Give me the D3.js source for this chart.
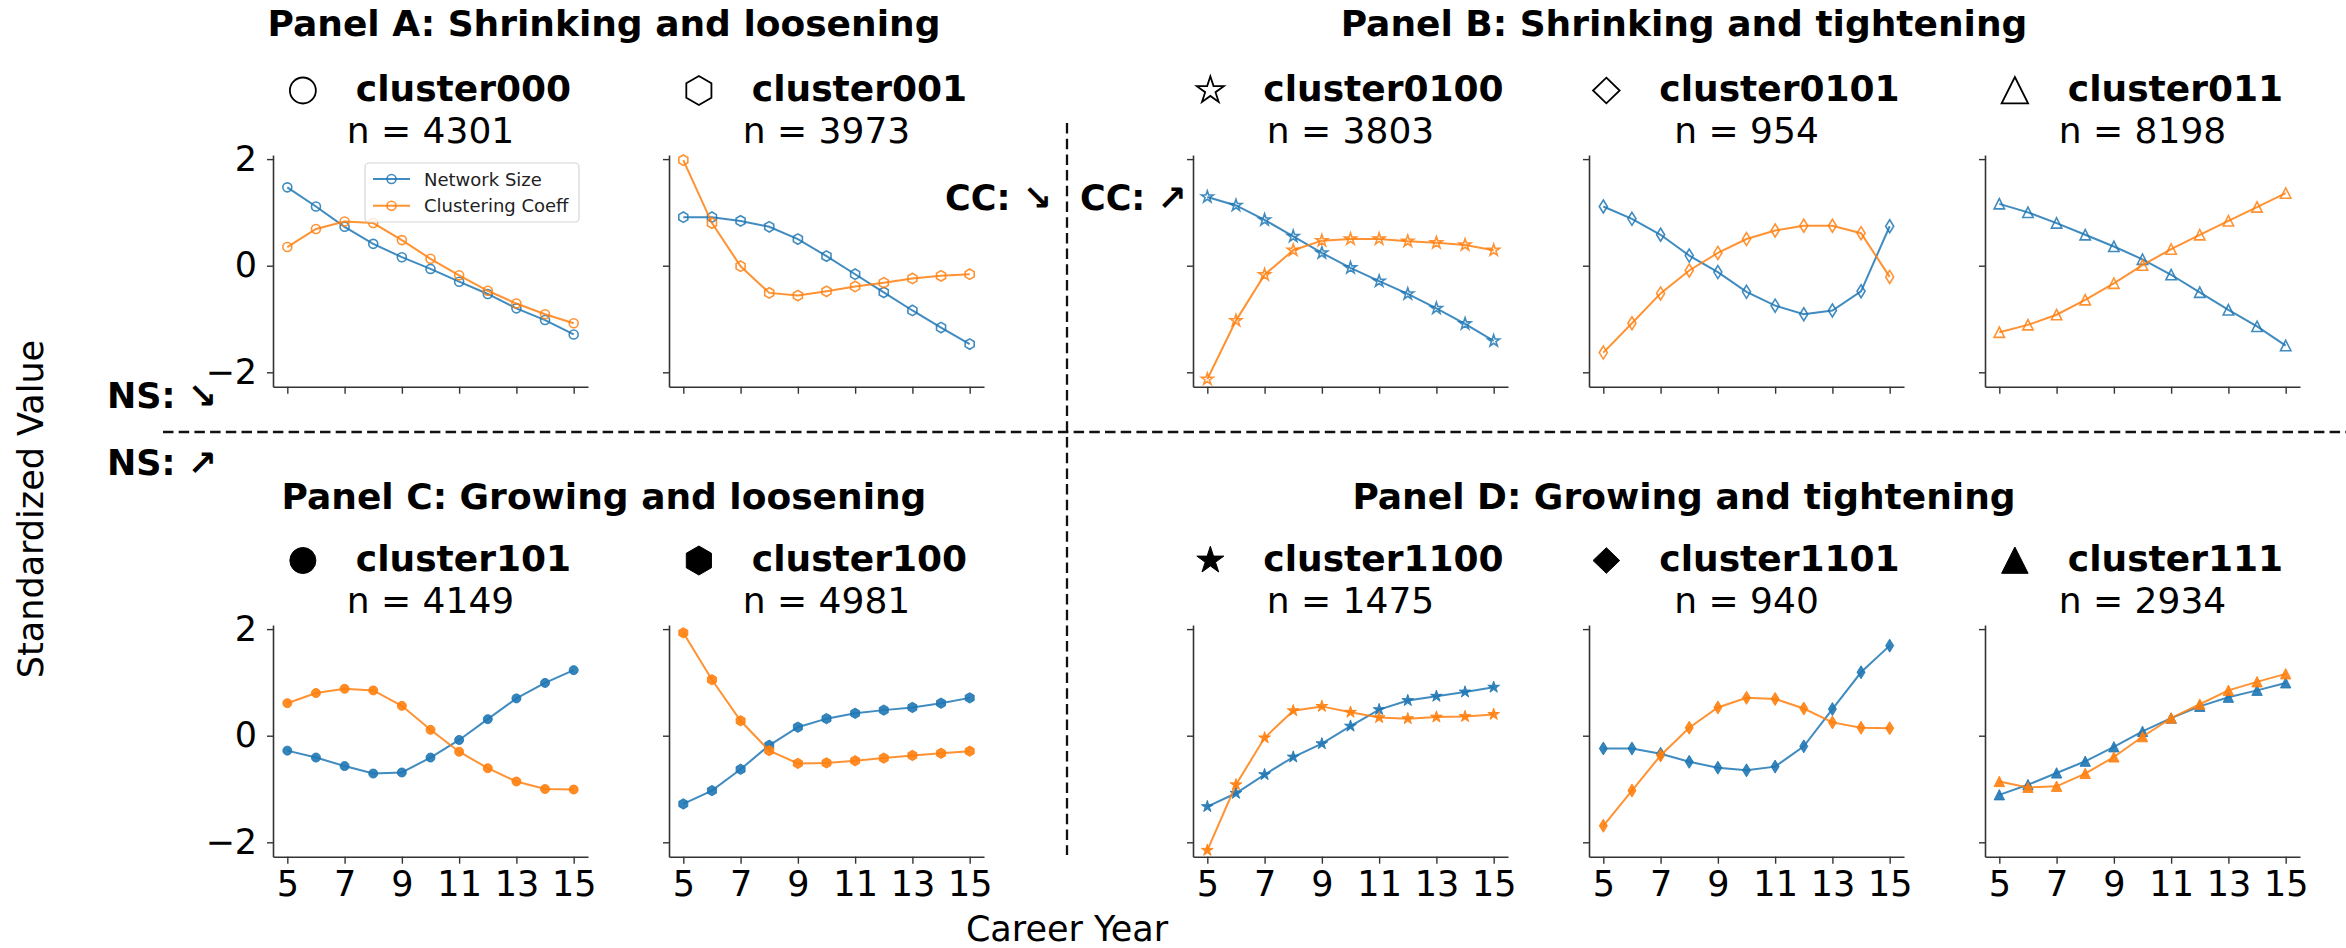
<!DOCTYPE html>
<html>
<head>
<meta charset="utf-8">
<script src="https://cdn.jsdelivr.net/npm/d3@7/dist/d3.min.js"></script>
<style>
  body { margin: 0; background: #fff; }
  svg { display: block; }
  text { font-family: "DejaVu Sans", sans-serif; }
</style>
</head>
<body>
<svg id="fig" width="2346" height="948"></svg>
<script>
// ---- data -------------------------------------------------------------
const years = [5, 6, 7, 8, 9, 10, 11, 12, 13, 14, 15];
const xTickValues = [5, 7, 9, 11, 13, 15];
const yTickValues = [-2, 0, 2];
const seriesNames = ["Network Size", "Clustering Coeff"];

const panelTitles = [
  "Panel A: Shrinking and loosening",
  "Panel B: Shrinking and tightening",
  "Panel C: Growing and loosening",
  "Panel D: Growing and tightening"
];

const clusterIds = ["cluster000", "cluster001", "cluster0100", "cluster0101", "cluster011",
                    "cluster101", "cluster100", "cluster1100", "cluster1101", "cluster111"];
const clusterSizes = [4301, 3973, 3803, 954, 8198, 4149, 4981, 1475, 940, 2934];
const clusterShapes = ["circle", "hexagon", "star", "thinDiamond", "triangle",
                       "circle", "hexagon", "star", "thinDiamond", "triangle"];
const clusterFilled = [false, false, false, false, false, true, true, true, true, true];

// standardized network size (NS) and clustering coefficient (CC), career years 5..15
const nsCluster000  = [1.47, 1.11, 0.73, 0.41, 0.16, -0.06, -0.30, -0.53, -0.80, -1.02, -1.29];
const ccCluster000  = [0.35, 0.69, 0.83, 0.80, 0.48, 0.13, -0.18, -0.47, -0.71, -0.91, -1.08];
const nsCluster001  = [0.91, 0.91, 0.84, 0.73, 0.50, 0.18, -0.16, -0.50, -0.84, -1.16, -1.47];
const ccCluster001  = [1.98, 0.80, -0.01, -0.51, -0.56, -0.48, -0.39, -0.32, -0.24, -0.19, -0.16];
const nsCluster0100 = [1.29, 1.13, 0.86, 0.55, 0.24, -0.04, -0.29, -0.53, -0.80, -1.09, -1.41];
const ccCluster0100 = [-2.13, -1.03, -0.17, 0.29, 0.47, 0.50, 0.50, 0.46, 0.43, 0.39, 0.29];
const nsCluster0101 = [1.11, 0.88, 0.58, 0.19, -0.12, -0.49, -0.75, -0.91, -0.84, -0.48, 0.74];
const ccCluster0101 = [-1.63, -1.08, -0.52, -0.09, 0.24, 0.50, 0.66, 0.75, 0.75, 0.61, -0.21];
const nsCluster011  = [1.16, 1.00, 0.80, 0.58, 0.36, 0.12, -0.17, -0.50, -0.83, -1.14, -1.50];
const ccCluster011  = [-1.25, -1.11, -0.92, -0.64, -0.33, 0.01, 0.31, 0.58, 0.84, 1.10, 1.36];
const nsCluster101  = [-0.28, -0.41, -0.57, -0.71, -0.69, -0.41, -0.08, 0.31, 0.70, 0.99, 1.23];
const ccCluster101  = [0.61, 0.80, 0.88, 0.85, 0.56, 0.11, -0.30, -0.61, -0.86, -1.00, -1.01];
const nsCluster100  = [-1.28, -1.03, -0.63, -0.18, 0.16, 0.32, 0.42, 0.48, 0.53, 0.61, 0.71];
const ccCluster100  = [1.93, 1.05, 0.28, -0.28, -0.52, -0.51, -0.47, -0.42, -0.37, -0.33, -0.29];
const nsCluster1100 = [-1.33, -1.08, -0.73, -0.40, -0.15, 0.18, 0.49, 0.66, 0.74, 0.82, 0.91];
const ccCluster1100 = [-2.15, -0.92, -0.04, 0.47, 0.55, 0.44, 0.34, 0.32, 0.35, 0.36, 0.40];
const nsCluster1101 = [-0.24, -0.24, -0.34, -0.49, -0.60, -0.65, -0.58, -0.20, 0.50, 1.19, 1.69];
const ccCluster1101 = [-1.69, -1.03, -0.37, 0.15, 0.53, 0.71, 0.69, 0.51, 0.25, 0.15, 0.14];
const nsCluster111  = [-1.11, -0.92, -0.70, -0.48, -0.21, 0.08, 0.33, 0.55, 0.72, 0.85, 0.99];
const ccCluster111  = [-0.86, -0.97, -0.95, -0.71, -0.40, -0.02, 0.33, 0.59, 0.85, 1.01, 1.16];

const nsSeries = [nsCluster000, nsCluster001, nsCluster0100, nsCluster0101, nsCluster011,
                  nsCluster101, nsCluster100, nsCluster1100, nsCluster1101, nsCluster111];
const ccSeries = [ccCluster000, ccCluster001, ccCluster0100, ccCluster0101, ccCluster011,
                  ccCluster101, ccCluster100, ccCluster1100, ccCluster1101, ccCluster111];

// ---- layout -----------------------------------------------------------
const colors = ["#1f77b4", "#ff7f0e"];
const colLeft = [273, 669, 1193, 1589, 1985];
const axW = 315;
const rowTop = [155, 625];
const axH = 231.7;
const yDomain = [-2.27, 2.077];
const xDomain = [4.5, 15.5];

const svg = d3.select("#fig");

// marker outlines centred on (0,0)
function shapePath(shape, s) {
  const p = d3.path();
  if (shape === "circle") {
    p.moveTo(s, 0); p.arc(0, 0, s, 0, 2 * Math.PI); p.closePath();
  } else if (shape === "hexagon") {
    for (let k = 0; k < 6; k++) {
      const a = -Math.PI / 2 + k * Math.PI / 3;
      k ? p.lineTo(s * Math.cos(a), s * Math.sin(a)) : p.moveTo(s * Math.cos(a), s * Math.sin(a));
    }
    p.closePath();
  } else if (shape === "star") {
    for (let k = 0; k < 10; k++) {
      const r = k % 2 ? s * 0.382 : s;
      const a = -Math.PI / 2 + k * Math.PI / 5;
      k ? p.lineTo(r * Math.cos(a), r * Math.sin(a)) : p.moveTo(r * Math.cos(a), r * Math.sin(a));
    }
    p.closePath();
  } else if (shape === "thinDiamond") {
    p.moveTo(0, -s); p.lineTo(0.62 * s, 0); p.lineTo(0, s); p.lineTo(-0.62 * s, 0); p.closePath();
  } else if (shape === "diamond") {
    p.moveTo(0, -s); p.lineTo(1.04 * s, 0); p.lineTo(0, s); p.lineTo(-1.04 * s, 0); p.closePath();
  } else if (shape === "triangle") {
    p.moveTo(0, -s); p.lineTo(s * 0.98, s * 0.95); p.lineTo(-s * 0.98, s * 0.95); p.closePath();
  }
  return p.toString();
}
const dataMarkerSize = { circle: 4.5, hexagon: 5.2, star: 6.2, thinDiamond: 6.5, triangle: 5.3 };
const headerMarkerSize = { circle: 13, hexagon: 14.5, star: 14.2, thinDiamond: 12.8, triangle: 13.5 };

// ---- panels -----------------------------------------------------------
clusterIds.forEach((id, i) => {
  const row = i < 5 ? 0 : 1;
  const col = i % 5;
  const x0 = colLeft[col];
  const top = rowTop[row];
  const x = d3.scaleLinear().domain(xDomain).range([x0, x0 + axW]);
  const y = d3.scaleLinear().domain(yDomain).range([top + axH, top]);
  const g = svg.append("g");

  // axes (left and bottom spines only)
  const yAxis = d3.axisLeft(y).tickValues(yTickValues).tickSize(6).tickSizeOuter(0).tickPadding(10)
    .tickFormat(col === 0 ? d3.format("d") : () => "");
  const xAxis = d3.axisBottom(x).tickValues(xTickValues).tickSize(7).tickSizeOuter(0).tickPadding(7.5)
    .tickFormat(row === 1 ? d3.format("d") : () => "");
  const ga = g.append("g").attr("transform", `translate(${x0},0)`).call(yAxis);
  const gb = g.append("g").attr("transform", `translate(0,${top + axH})`).call(xAxis);
  [ga, gb].forEach(a => {
    a.attr("font-family", null).attr("font-size", null);
    a.select(".domain").attr("stroke", "#333").attr("stroke-width", 1.6);
    a.selectAll(".tick line").attr("stroke", "#333").attr("stroke-width", 1.4);
    a.selectAll(".tick text").attr("fill", "#000").style("font-size", "35px");
  });

  // series: network size first, clustering coefficient drawn on top
  [nsSeries[i], ccSeries[i]].forEach((vals, s) => {
    const pts = years.map((yr, k) => [x(yr), y(vals[k])]);
    g.append("path")
      .attr("d", d3.line()(pts))
      .attr("fill", "none")
      .attr("stroke", colors[s])
      .attr("stroke-width", 2)
      .attr("stroke-opacity", 0.85);
    g.append("g").selectAll("path").data(pts).join("path")
      .attr("transform", d => `translate(${d[0]},${d[1]})`)
      .attr("d", shapePath(clusterShapes[i], dataMarkerSize[clusterShapes[i]]))
      .attr("fill", clusterFilled[i] ? colors[s] : "none")
      .attr("fill-opacity", 0.9)
      .attr("stroke", colors[s])
      .attr("stroke-opacity", 0.85)
      .attr("stroke-width", clusterFilled[i] ? 1 : 1.6);
  });

  // header: symbol + bold cluster id, then sample size
  const cx = x0 + axW / 2;
  const nameY = row === 0 ? 101 : 571;
  const nm = g.append("text").attr("y", nameY).attr("font-weight", "bold")
    .style("font-size", "36px").attr("fill", "#000").text(id);
  const w = nm.node().getComputedTextLength();
  const left = cx - (66 + w) / 2;
  nm.attr("x", left + 66);
  const hs = clusterShapes[i] === "thinDiamond" ? "diamond" : clusterShapes[i];
  g.append("path")
    .attr("transform", `translate(${left + 13},${row === 0 ? 90.5 : 560.5})`)
    .attr("d", shapePath(hs, headerMarkerSize[clusterShapes[i]]))
    .attr("fill", clusterFilled[i] ? "#000" : "none")
    .attr("stroke", "#000")
    .attr("stroke-width", clusterFilled[i] ? 1 : 1.8);
  g.append("text").attr("x", cx).attr("y", row === 0 ? 143 : 613)
    .attr("text-anchor", "middle").style("font-size", "36px").attr("fill", "#000")
    .text(`n = ${clusterSizes[i]}`);

  // legend in the first panel
  if (i === 0) {
    const lg = g.append("g");
    lg.append("rect").attr("x", 365).attr("y", 163).attr("width", 214).attr("height", 59)
      .attr("rx", 4).attr("fill", "#fff").attr("fill-opacity", 0.8)
      .attr("stroke", "#d6d6d6").attr("stroke-width", 1.2);
    seriesNames.forEach((name, s) => {
      const ly = 179 + s * 26.7;
      lg.append("line").attr("x1", 373).attr("x2", 410).attr("y1", ly).attr("y2", ly)
        .attr("stroke", colors[s]).attr("stroke-width", 2).attr("stroke-opacity", 0.85);
      lg.append("path").attr("transform", `translate(391.5,${ly})`)
        .attr("d", shapePath("circle", 4.5)).attr("fill", "none")
        .attr("stroke", colors[s]).attr("stroke-opacity", 0.85).attr("stroke-width", 1.6);
      lg.append("text").attr("x", 424).attr("y", ly + 6.5).style("font-size", "18px")
        .attr("fill", "#222").text(name);
    });
  }
});

// ---- quadrant titles ---------------------------------------------------
const titlePos = [[604, 36], [1684, 36], [604, 509], [1684, 509]];
panelTitles.forEach((t, k) => {
  svg.append("text").attr("x", titlePos[k][0]).attr("y", titlePos[k][1])
    .attr("text-anchor", "middle").attr("font-weight", "bold").style("font-size", "36px")
    .attr("fill", "#000").text(t);
});

// ---- quadrant dividers and direction labels ----------------------------
svg.append("line").attr("x1", 1067).attr("x2", 1067).attr("y1", 123).attr("y2", 855)
  .attr("stroke", "#111").attr("stroke-width", 2.3).attr("stroke-dasharray", "10.5,5.2");
svg.append("line").attr("x1", 163).attr("x2", 2346).attr("y1", 432).attr("y2", 432)
  .attr("stroke", "#111").attr("stroke-width", 2.3).attr("stroke-dasharray", "10.5,5.2");

const dirLabels = [
  { text: "NS: \u2198", x: 107, y: 408, anchor: "start" },
  { text: "NS: \u2197", x: 107, y: 475, anchor: "start" },
  { text: "CC: \u2198", x: 1052, y: 210, anchor: "end" },
  { text: "CC: \u2197", x: 1080, y: 210, anchor: "start" }
];
dirLabels.forEach(d => {
  svg.append("text").attr("x", d.x).attr("y", d.y).attr("text-anchor", d.anchor)
    .attr("font-weight", "bold").style("font-size", "35px").attr("fill", "#000").text(d.text);
});

// ---- shared axis labels --------------------------------------------------
svg.append("text").attr("x", 1067).attr("y", 941).attr("text-anchor", "middle")
  .style("font-size", "35px").attr("fill", "#000").text("Career Year");
svg.append("text").attr("transform", "translate(43,509) rotate(-90)")
  .attr("text-anchor", "middle").style("font-size", "35px").attr("fill", "#000")
  .text("Standardized Value");
</script>
</body>
</html>
